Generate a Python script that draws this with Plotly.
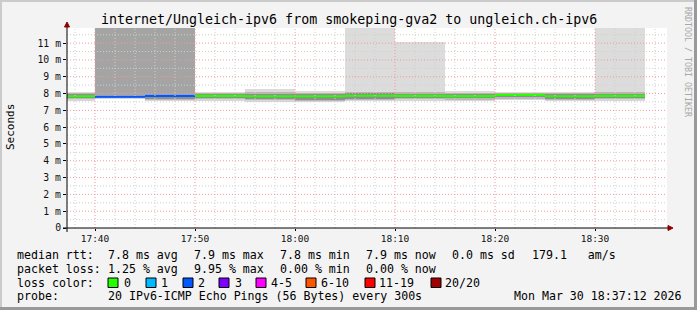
import plotly.graph_objects as go
from datetime import datetime, timedelta

# ---------------- data ----------------
DAY = "2026-03-30"
bin_start = ["17:35", "17:40", "17:45", "17:50", "17:55", "18:00",
             "18:05", "18:10", "18:15", "18:20", "18:25", "18:30"]
median_ms = [7.84, 7.81, 7.86, 7.86, 7.84, 7.84, 7.87, 7.86, 7.85, 7.92, 7.84, 7.86]
loss_pings = [0, 2, 2, 0, 0, 0, 0, 0, 0, 0, 0, 0]
ping_min = [7.61, 7.69, 7.57, 7.61, 7.53, 7.53, 7.57, 7.60, 7.57, 7.63, 7.57, 7.60]
ping_p10 = [7.66, 7.72, 7.63, 7.67, 7.60, 7.58, 7.64, 7.66, 7.63, 7.69, 7.62, 7.66]
ping_p25 = [7.72, 7.76, 7.70, 7.74, 7.66, 7.64, 7.70, 7.72, 7.72, 7.77, 7.67, 7.72]
ping_p75 = [7.97, 7.88, 7.93, 7.96, 8.00, 7.98, 8.02, 8.00, 7.95, 8.00, 7.97, 8.00]
ping_p90 = [8.03, 7.90, 7.95, 8.01, 8.10, 8.05, 8.09, 8.07, 8.04, 8.04, 8.02, 8.07]
ping_max = [8.09, 12.5, 12.5, 8.05, 8.25, 8.11, 12.5, 11.06, 8.13, 8.07, 8.04, 12.5]

x_start = f"{DAY} 17:37:12"
x_end = f"{DAY} 18:37:12"
x_ticks = ["17:40", "17:50", "18:00", "18:10", "18:20", "18:30"]
y_tickvals = [0, 1, 2, 3, 4, 5, 6, 7, 8, 9, 10, 11]
y_ticktext = ["0", "1 m", "2 m", "3 m", "4 m", "5 m", "6 m", "7 m", "8 m", "9 m", "10 m", "11 m"]

title_text = "internet/Ungleich-ipv6 from smokeping-gva2 to ungleich.ch-ipv6"
rtt_label = "median rtt:"
rtt_stats = ["7.8 ms avg", "7.9 ms max", "7.8 ms min", "7.9 ms now", "0.0 ms sd", "179.1   am/s"]
loss_label = "packet loss:"
loss_stats = ["1.25 % avg", "9.95 % max", "0.00 % min", "0.00 % now"]
color_label = "loss color:"
loss_names = ["0", "1", "2", "3", "4-5", "6-10", "11-19", "20/20"]
loss_colors = ["#26ff00", "#00b8ff", "#0059ff", "#7e00ff", "#ff00ff", "#ff5500", "#ff0000", "#a10000"]
loss_upper = [0, 1, 2, 3, 5, 10, 19, 20]
probe_label = "probe:"
probe_text = "20 IPv6-ICMP Echo Pings (56 Bytes) every 300s"
date_text = "Mon Mar 30 18:37:12 2026"
credit_text = "RRDTOOL / TOBI OETIKER"
ylab = "Seconds"

# ---------------- geometry helpers ----------------
W, H = 697, 310
L, T, PW, PH = 67, 28, 600, 200
def px(x):
    return (x - L) / PW
def py(y):
    return (T + PH - y) / PH

STEP = 300
t0 = [datetime.fromisoformat(f"{DAY} {s}:00") for s in bin_start]
centers = [t + timedelta(seconds=STEP / 2) for t in t0]
ends = [t + timedelta(seconds=STEP) for t in t0]

def loss_color(n):
    for up, c in zip(loss_upper, loss_colors):
        if n <= up:
            return c
    return loss_colors[-1]

fig = go.Figure()

def band(lo, hi, colors):
    fig.add_trace(go.Bar(
        x=centers, y=[h - l for l, h in zip(lo, hi)], base=lo,
        width=STEP * 1000, marker=dict(color=colors, line=dict(width=0)),
        hoverinfo="skip", showlegend=False))

band(ping_min, ping_p10, ["#d6d6d6"] * len(t0))
band(ping_p90, ping_max, ["#a4a4a4" if n > 0 else "#dcdcdc" for n in loss_pings])
band(ping_p10, ping_p90, ["#b8b8b8"] * len(t0))
band(ping_p25, ping_p75, ["#8e8e8e"] * len(t0))

for s, e, m, n in zip(t0, ends, median_ms, loss_pings):
    fig.add_trace(go.Scatter(x=[s, e], y=[m, m], mode="lines",
                             line=dict(color=loss_color(n), width=2.2),
                             hoverinfo="skip", showlegend=False))

shapes = []
# grid (drawn above data, like rrdtool)
tg = datetime.fromisoformat(f"{DAY} 17:38:00")
while tg < datetime.fromisoformat(x_end):
    major = tg.minute % 10 == 0
    shapes.append(dict(type="line", xref="x", yref="paper", x0=tg, x1=tg, y0=0, y1=1,
                       line=dict(color="#f29a9a" if major else "#cfcfcf", width=1, dash="1px,2px")))
    tg += timedelta(minutes=2)
for k in range(1, 24):
    v = k * 0.5
    major = k % 2 == 0
    shapes.append(dict(type="line", xref="paper", yref="y", x0=0, x1=1, y0=v, y1=v,
                       line=dict(color="#f29a9a" if major else "#cfcfcf", width=1, dash="1px,2px")))

# axes
AX = "#000000"
ARROW = "#8b0000"
shapes.append(dict(type="line", xref="paper", yref="paper", x0=px(63), x1=px(669), y0=0, y1=0,
                   line=dict(color=AX, width=1)))
shapes.append(dict(type="line", xref="paper", yref="paper", x0=0, x1=0, y0=py(232), y1=py(25),
                   line=dict(color=AX, width=1)))
shapes.append(dict(type="path", xref="paper", yref="paper",
                   path=f"M {px(668)},{py(225.5)} L {px(673)},{py(228)} L {px(668)},{py(230.5)} Z",
                   fillcolor=ARROW, line=dict(color=ARROW, width=1)))
shapes.append(dict(type="path", xref="paper", yref="paper",
                   path=f"M {px(64.5)},{py(27)} L {px(67)},{py(22)} L {px(69.5)},{py(27)} Z",
                   fillcolor=ARROW, line=dict(color=ARROW, width=1)))

# frame of the image
shapes.append(dict(type="rect", xref="paper", yref="paper", x0=px(0), x1=px(2), y0=py(0), y1=py(310),
                   fillcolor="#cbcbcb", line=dict(width=0)))
shapes.append(dict(type="rect", xref="paper", yref="paper", x0=px(0), x1=px(697), y0=py(0), y1=py(2),
                   fillcolor="#cbcbcb", line=dict(width=0)))
shapes.append(dict(type="rect", xref="paper", yref="paper", x0=px(694), x1=px(697), y0=py(0), y1=py(310),
                   fillcolor="#999999", line=dict(width=0)))
shapes.append(dict(type="rect", xref="paper", yref="paper", x0=px(0), x1=px(697), y0=py(307), y1=py(310),
                   fillcolor="#999999", line=dict(width=0)))

# loss color boxes
box_x = [108, 146, 183, 219, 256, 306, 365, 431]
lab_x = [123, 160, 197, 234, 270, 320, 378, 444]
for bx, c in zip(box_x, loss_colors):
    shapes.append(dict(type="rect", xref="paper", yref="paper",
                       x0=px(bx), x1=px(bx + 10), y0=py(278), y1=py(287.5),
                       fillcolor=c, line=dict(color="#000000", width=1)))

MONO = "DejaVu Sans Mono"
ann = []
def text(x, y, s, size=11.6, color="#000000", anchor="left", angle=0):
    ann.append(dict(xref="paper", yref="paper", x=px(x), y=py(y), text=s, showarrow=False,
                    xanchor=anchor, yanchor="middle", textangle=angle, borderpad=0,
                    font=dict(family=MONO, size=size, color=color)))

text(348.5, 19, title_text, size=13.3, anchor="center")
text(10, 127, ylab, size=11, anchor="center", angle=-90)
text(688, 62, credit_text, size=8.3, color="#a8a8a8", anchor="center", angle=90)

rows = [254.7, 268.7, 282.7, 296.2]
stat_x = [107, 193, 279, 365, 451, 531]
text(16, rows[0], rtt_label)
for x, s in zip(stat_x, rtt_stats):
    text(x, rows[0], s)
text(16, rows[1], loss_label)
for x, s in zip(stat_x, loss_stats):
    text(x, rows[1], s)
text(16, rows[2], color_label)
for x, s in zip(lab_x, loss_names):
    text(x, rows[2], s)
text(16, rows[3], probe_label)
text(107, rows[3], probe_text)
text(513, rows[3], date_text)

fig.update_layout(
    width=W, height=H, margin=dict(l=L, r=W - L - PW, t=T, b=H - T - PH),
    paper_bgcolor="#f3f3f3", plot_bgcolor="#ffffff",
    barmode="overlay", bargap=0, showlegend=False,
    shapes=shapes, annotations=ann,
    xaxis=dict(type="date", range=[x_start, x_end], showgrid=False, zeroline=False, showline=False,
               tickvals=[f"{DAY} {t}" for t in x_ticks], ticktext=x_ticks,
               ticks="outside", ticklen=2, tickcolor=AX,
               tickfont=dict(family=MONO, size=9.5, color="#111111"), fixedrange=True),
    yaxis=dict(range=[0, 11.9], showgrid=False, zeroline=False, showline=False,
               tickvals=y_tickvals, ticktext=y_ticktext,
               ticks="outside", ticklen=3, tickcolor=AX,
               tickfont=dict(family=MONO, size=9.8, color="#111111"), fixedrange=True),
)

fig.write_html("out.html")
